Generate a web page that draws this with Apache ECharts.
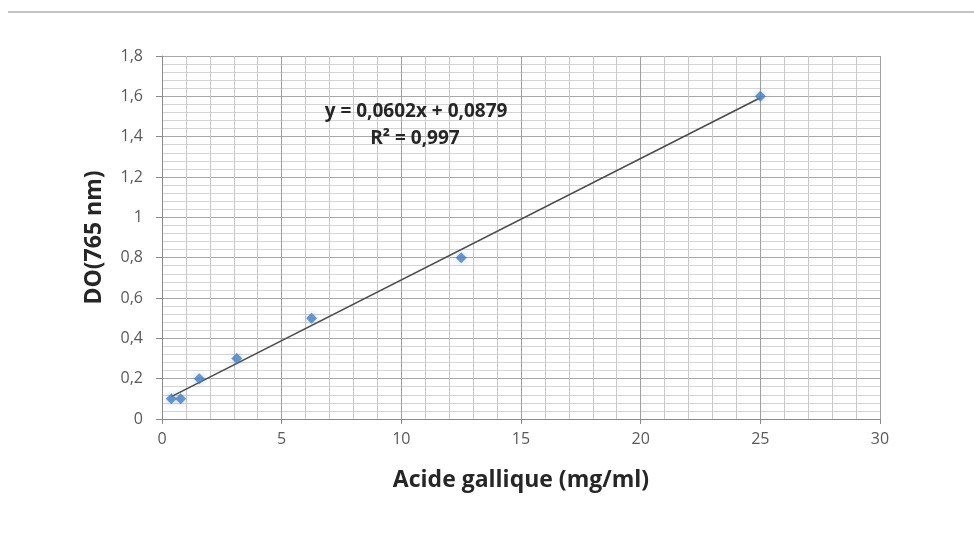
<!DOCTYPE html>
<html>
<head>
<meta charset="utf-8">
<script src="https://cdn.jsdelivr.net/npm/echarts@6/dist/echarts.min.js"></script>
<style>
  html, body { margin: 0; padding: 0; background: #fff; }
  #chart { width: 974px; height: 543px; }
</style>
</head>
<body>
<div id="chart"></div>
<script>
// concentrations (mg/ml) et absorbances
var concentrations = [0.39, 0.78, 1.56, 3.125, 6.25, 12.5, 25];
var absorbances = [0.1, 0.1, 0.2, 0.3, 0.5, 0.8, 1.6];
// extrémités de la droite de tendance
var trendX = [0.39, 25];
var trendY = [0.111, 1.593];
var equationLines = ['y = 0,0602x + 0,0879', 'R² = 0,997'];

var font = '"Open Sans", Lato, sans-serif';

var chart = echarts.init(document.getElementById('chart'));

var points = concentrations.map(function (x, i) { return [x, absorbances[i]]; });
var trend = trendX.map(function (x, i) { return [x, trendY[i]]; });

var option = {
  animation: false,
  backgroundColor: '#fff',
  grid: { left: 162, right: 94, top: 56, bottom: 124 },
  xAxis: {
    type: 'value',
    min: 0,
    max: 30,
    interval: 5,
    name: 'Acide gallique (mg/ml)',
    nameLocation: 'middle',
    nameGap: 50,
    nameTextStyle: { fontFamily: font, fontWeight: 'bold', fontSize: 23, color: '#262626' },
    axisLine: { show: true, lineStyle: { color: '#8a8a8a', width: 1 } },
    axisTick: { show: true, length: 5, lineStyle: { color: '#8a8a8a' } },
    axisLabel: { fontFamily: font, fontSize: 16, color: '#595959', margin: 12 },
    splitLine: { show: true, lineStyle: { color: '#a0a0a0', width: 1 } },
    minorTick: { show: false, splitNumber: 5 },
    minorSplitLine: { show: true, lineStyle: { color: '#c8c8c8', width: 1 } }
  },
  yAxis: {
    type: 'value',
    min: 0,
    max: 1.8,
    interval: 0.2,
    name: 'DO(765 nm)',
    nameLocation: 'middle',
    nameGap: 56,
    nameTextStyle: { fontFamily: font, fontWeight: 'bold', fontSize: 23, color: '#262626' },
    axisLine: { show: true, lineStyle: { color: '#8a8a8a', width: 1 } },
    axisTick: { show: true, length: 6, lineStyle: { color: '#8a8a8a' } },
    axisLabel: {
      fontFamily: font, fontSize: 16, color: '#595959', margin: 19,
      formatter: function (v) { return String(Math.round(v * 10) / 10).replace('.', ','); }
    },
    splitLine: { show: true, lineStyle: { color: '#a8a8a8', width: 1 } },
    minorTick: { show: false, splitNumber: 5 },
    minorSplitLine: { show: true, lineStyle: { color: '#d4d4d4', width: 1 } }
  },
  series: [
    {
      type: 'line',
      data: trend,
      symbol: 'none',
      lineStyle: { color: '#4a4a4a', width: 1.5 },
      z: 3
    },
    {
      type: 'scatter',
      data: points,
      symbol: 'diamond',
      symbolSize: 11,
      itemStyle: { color: '#4a7ebb', shadowBlur: 6, shadowColor: 'rgba(74,126,187,0.45)' },
      z: 4
    }
  ],
  graphic: [
    {
      type: 'line',
      shape: { x1: 8, y1: 12, x2: 974, y2: 12 },
      style: { stroke: '#c4c4c4', lineWidth: 2 }
    },
    {
      type: 'text',
      z: 100,
      style: {
        text: equationLines[0], x: 416, y: 112,
        align: 'center', verticalAlign: 'middle',
        font: 'bold 19px ' + font, fill: '#262626'
      }
    },
    {
      type: 'text',
      z: 100,
      style: {
        text: equationLines[1], x: 415, y: 139,
        align: 'center', verticalAlign: 'middle',
        font: 'bold 19px ' + font, fill: '#262626'
      }
    }
  ]
};

chart.setOption(option);
</script>
</body>
</html>
